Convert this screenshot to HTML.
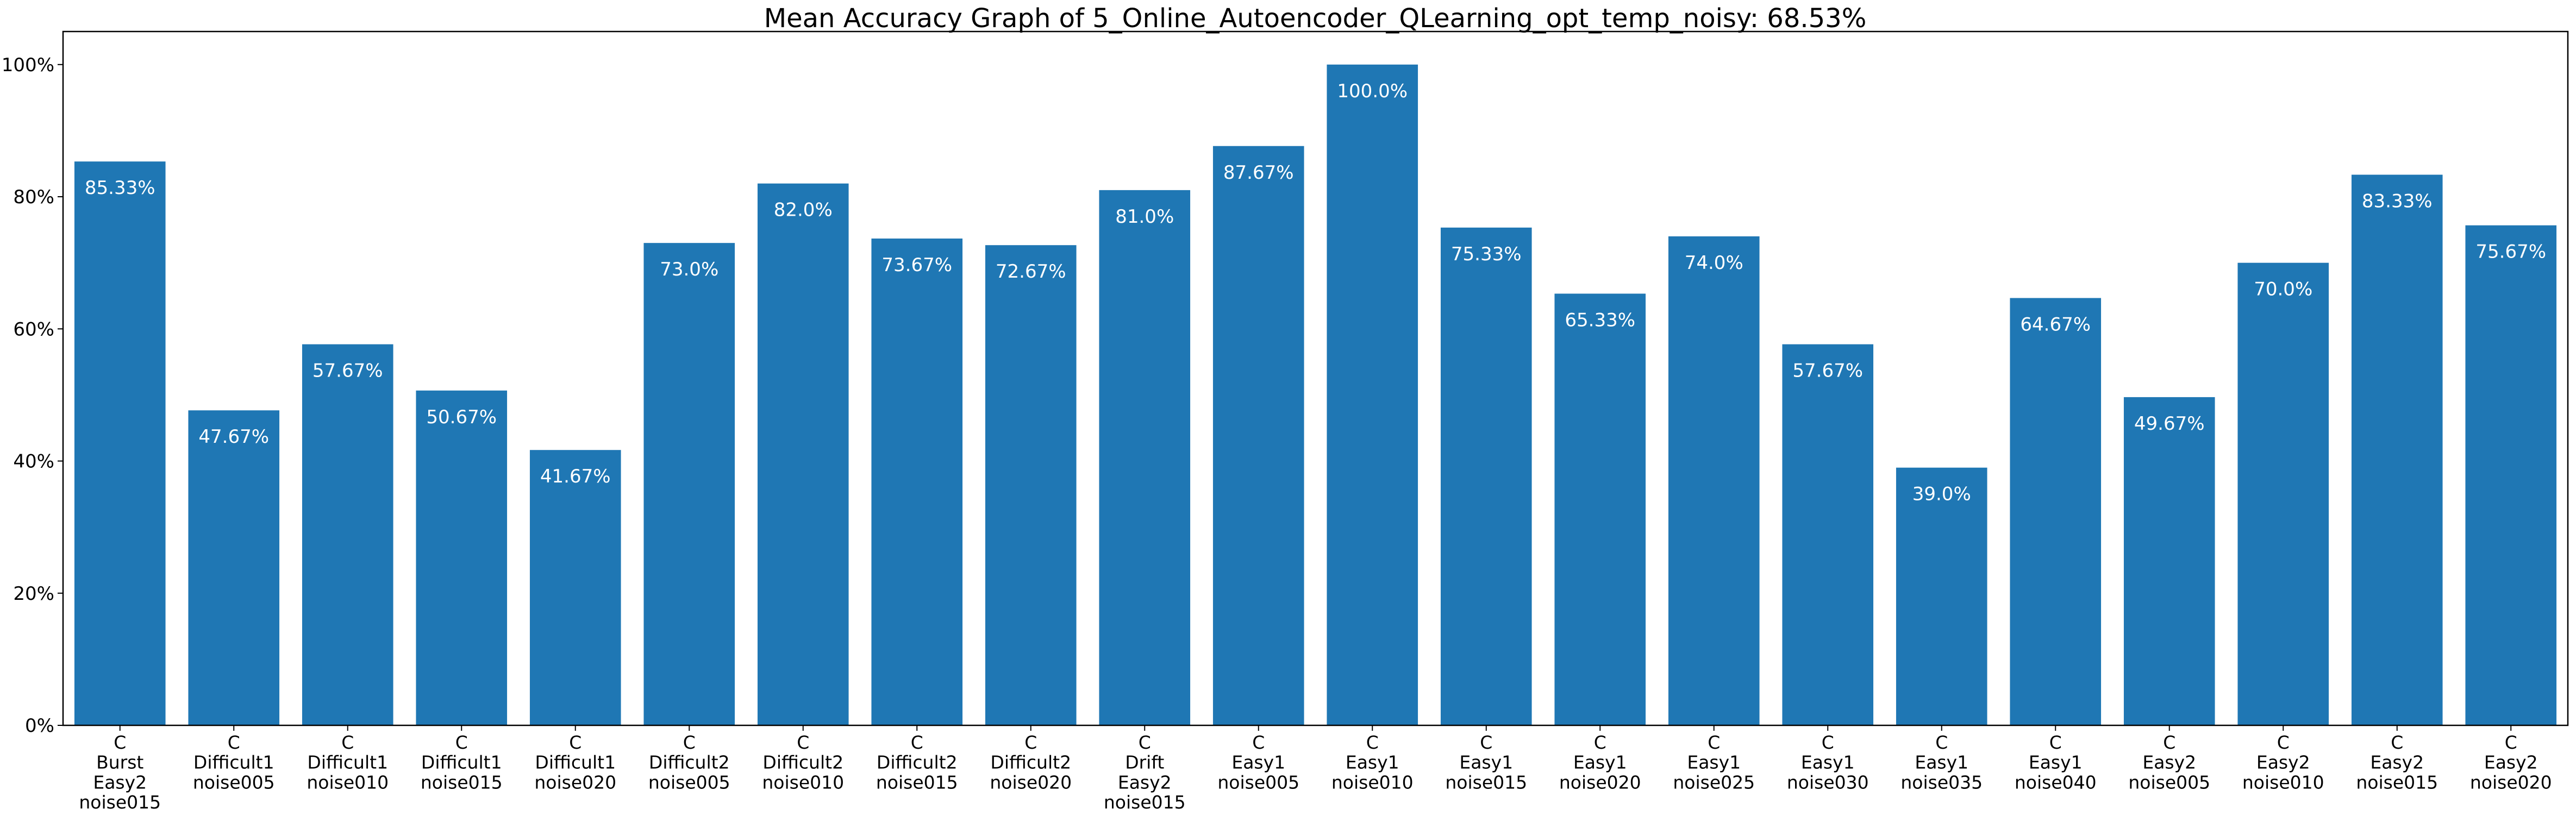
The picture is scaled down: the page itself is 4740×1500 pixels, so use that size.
<!DOCTYPE html>
<html><head><meta charset="utf-8"><style>
html,body{margin:0;padding:0;background:#fff;}
svg{display:block;font-family:"DejaVu Sans","Liberation Sans",sans-serif;}
</style></head><body>
<svg id="chart" width="4740" height="1500" xmlns="http://www.w3.org/2000/svg">
<text x="2420" y="50" font-size="48" text-anchor="middle">Mean Accuracy Graph of 5_Online_Autoencoder_QLearning_opt_temp_noisy: 68.53%</text>
<g id="bars"></g>
<g id="yaxis"></g>
<g id="xaxis"></g>
<rect x="116" y="58" width="4609" height="1277" fill="none" stroke="#000" stroke-width="2.5"/>
</svg>
<script>
const categories = [
 ["C","Burst","Easy2","noise015"],["C","Difficult1","noise005"],["C","Difficult1","noise010"],["C","Difficult1","noise015"],
 ["C","Difficult1","noise020"],["C","Difficult2","noise005"],["C","Difficult2","noise010"],["C","Difficult2","noise015"],
 ["C","Difficult2","noise020"],["C","Drift","Easy2","noise015"],["C","Easy1","noise005"],["C","Easy1","noise010"],
 ["C","Easy1","noise015"],["C","Easy1","noise020"],["C","Easy1","noise025"],["C","Easy1","noise030"],
 ["C","Easy1","noise035"],["C","Easy1","noise040"],["C","Easy2","noise005"],["C","Easy2","noise010"],
 ["C","Easy2","noise015"],["C","Easy2","noise020"]];
const values = [85.33,47.67,57.67,50.67,41.67,73.0,82.0,73.67,72.67,81.0,87.67,100.0,75.33,65.33,74.0,57.67,39.0,64.67,49.67,70.0,83.33,75.67];
const valueLabels = ["85.33%","47.67%","57.67%","50.67%","41.67%","73.0%","82.0%","73.67%","72.67%","81.0%","87.67%","100.0%","75.33%","65.33%","74.0%","57.67%","39.0%","64.67%","49.67%","70.0%","83.33%","75.67%"];
const yTicks = [0,20,40,60,80,100];
const yTickLabels = ["0%","20%","40%","60%","80%","100%"];

const NS="http://www.w3.org/2000/svg";
const L=116,R=4725,T=58,B=1335,YMAX=105;
const n=categories.length, step=(R-L)/n;
const xc=i=>L+step*(i+0.5);
const y=v=>B-(v/YMAX)*(B-T);
function mk(tag,attrs,parent){const e=document.createElementNS(NS,tag);for(const k in attrs)e.setAttribute(k,attrs[k]);parent.appendChild(e);return e;}
const gb=document.getElementById('bars'),gx=document.getElementById('xaxis'),gy=document.getElementById('yaxis');
values.forEach((v,i)=>{
 const w=step*0.8;
 const r=mk('rect',{x:xc(i)-w/2,y:y(v),width:w,height:B-y(v),fill:'#1f77b4'},gb);
 
 
 const t=mk('text',{x:xc(i),y:y(v)+60,'font-size':34,fill:'#fff','text-anchor':'middle'},gb);
 t.textContent=valueLabels[i];
 
 
 const tk=mk('line',{x1:xc(i),x2:xc(i),y1:B,y2:B+10,stroke:'#000','stroke-width':2},gx);
 
 
 const lab=mk('text',{x:xc(i),'font-size':33,'text-anchor':'middle'},gx);
 
 
 categories[i].forEach((s,j)=>{const ts=mk('tspan',{x:xc(i),y:1378+j*36.7},lab);ts.textContent=s;});
});
yTicks.forEach((v,i)=>{
 const tk=mk('line',{x1:L-10,x2:L,y1:y(v),y2:y(v),stroke:'#000','stroke-width':2},gy);
 
 
 const t=mk('text',{x:L-16,y:y(v)+12,'font-size':34,'text-anchor':'end'},gy);
 t.textContent=yTickLabels[i];
 
 
});
</script>
</body></html>
